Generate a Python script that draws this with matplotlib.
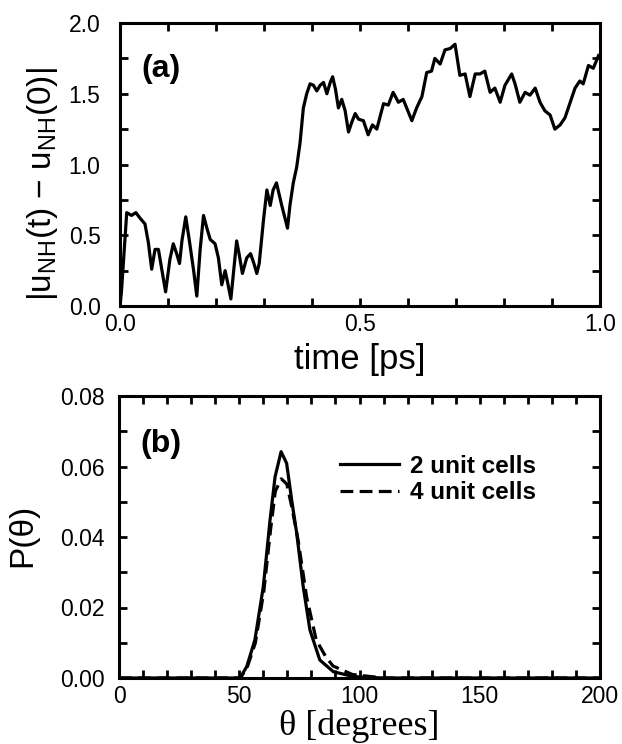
import matplotlib
matplotlib.use("Agg")
import matplotlib.pyplot as plt
from matplotlib.ticker import MultipleLocator, FormatStrFormatter

# (a) displacement trace
time_ps = [0.000, 0.003, 0.014, 0.024, 0.033, 0.042, 0.052, 0.059, 0.066, 0.073,
           0.080, 0.087, 0.095, 0.104, 0.111, 0.118, 0.124, 0.129, 0.137, 0.145,
           0.153, 0.160, 0.167, 0.174, 0.181, 0.188, 0.198, 0.205, 0.212, 0.219,
           0.224, 0.231, 0.243, 0.248, 0.255, 0.264, 0.272, 0.279, 0.285, 0.290,
           0.299, 0.306, 0.313, 0.319, 0.326, 0.337, 0.349, 0.354, 0.361, 0.368,
           0.375, 0.382, 0.389, 0.396, 0.403, 0.410, 0.417, 0.424, 0.431, 0.438,
           0.443, 0.449, 0.455, 0.462, 0.469, 0.476, 0.483, 0.490, 0.497, 0.507,
           0.517, 0.526, 0.535, 0.549, 0.559, 0.569, 0.580, 0.590, 0.608, 0.618,
           0.629, 0.639, 0.649, 0.656, 0.667, 0.677, 0.688, 0.698, 0.708, 0.719,
           0.729, 0.740, 0.750, 0.760, 0.771, 0.781, 0.792, 0.802, 0.816, 0.823,
           0.833, 0.844, 0.854, 0.865, 0.875, 0.885, 0.896, 0.906, 0.917, 0.927,
           0.938, 0.948, 0.958, 0.965, 0.976, 0.986, 0.997]
disp = [0.00, 0.10, 0.66, 0.64, 0.66, 0.62, 0.58, 0.45, 0.26, 0.40,
        0.40, 0.26, 0.10, 0.33, 0.44, 0.37, 0.30, 0.46, 0.63, 0.45,
        0.26, 0.07, 0.40, 0.64, 0.55, 0.47, 0.44, 0.34, 0.15, 0.25,
        0.17, 0.05, 0.46, 0.37, 0.23, 0.34, 0.37, 0.30, 0.23, 0.30,
        0.61, 0.82, 0.71, 0.82, 0.87, 0.71, 0.55, 0.71, 0.87, 0.98,
        1.15, 1.40, 1.50, 1.57, 1.56, 1.52, 1.56, 1.58, 1.50, 1.58,
        1.62, 1.53, 1.40, 1.46, 1.38, 1.23, 1.30, 1.36, 1.32, 1.31,
        1.21, 1.28, 1.25, 1.43, 1.42, 1.51, 1.44, 1.46, 1.31, 1.40,
        1.48, 1.65, 1.66, 1.75, 1.71, 1.81, 1.82, 1.85, 1.63, 1.64,
        1.48, 1.64, 1.64, 1.66, 1.51, 1.54, 1.44, 1.56, 1.64, 1.57,
        1.44, 1.51, 1.49, 1.54, 1.44, 1.38, 1.35, 1.25, 1.28, 1.33,
        1.44, 1.54, 1.59, 1.57, 1.70, 1.68, 1.77]

# (b) angle distributions
theta_2 = [0, 40, 50.3, 53.1, 56.5, 60.0, 62.8, 64.9, 67.4, 69.7, 71.8, 73.9,
           76.6, 79.4, 83.5, 89.1, 97.4, 110, 200]
p_2 = [0.0, 0.0, 0.0, 0.0032, 0.0108, 0.0259, 0.0448, 0.0571, 0.0642, 0.0609,
       0.0505, 0.0410, 0.0259, 0.0136, 0.0051, 0.0018, 0.0004, 0.0, 0.0]
theta_4 = [0, 40, 50.5, 53.3, 56.7, 60.2, 63.0, 65.0, 67.5, 69.8, 72.0, 74.5,
           78.0, 82.0, 86.0, 89.0, 97.0, 110, 200]
p_4 = [0.0, 0.0, 0.0, 0.0030, 0.0100, 0.0245, 0.0420, 0.0530, 0.0565, 0.0550,
       0.0480, 0.0390, 0.0230, 0.0108, 0.0060, 0.0034, 0.0010, 0.0, 0.0]

plt.rcParams["font.family"] = ["Liberation Sans", "DejaVu Sans"]
plt.rcParams["mathtext.default"] = "regular"

fig = plt.figure(figsize=(6.22, 7.44), dpi=100)
W, H = 622, 744
ax1 = fig.add_axes([120 / W, 1 - 306 / H, 480 / W, 283 / H])
ax2 = fig.add_axes([119 / W, 1 - 678 / H, 481 / W, 282 / H])


def style(ax, ypad):
    for s in ax.spines.values():
        s.set_linewidth(2.2)
    ax.tick_params(which="both", direction="in", top=True, right=True,
                   length=6, width=2, labelsize=16.5)
    ax.tick_params(axis="x", pad=5)
    ax.tick_params(axis="y", pad=ypad)


ax1.plot(time_ps, disp, color="black", lw=2.3, solid_joinstyle="round")
ax1.set_xlim(0, 1.0)
ax1.set_ylim(0, 2.0)
ax1.xaxis.set_major_locator(MultipleLocator(0.5))
ax1.xaxis.set_minor_locator(MultipleLocator(0.1))
ax1.yaxis.set_major_locator(MultipleLocator(0.5))
ax1.yaxis.set_minor_locator(MultipleLocator(0.25))
ax1.xaxis.set_major_formatter(FormatStrFormatter("%.1f"))
ax1.yaxis.set_major_formatter(FormatStrFormatter("%.1f"))
style(ax1, 14)
ax1.set_xlabel("time [ps]", fontsize=25, labelpad=5)
ax1.set_ylabel(r"|u$_{NH}$(t) $-$ u$_{NH}$(0)|", fontsize=24)
ax1.yaxis.set_label_coords(-0.125, 0.43)
ax1.text(0.045, 0.81, "(a)", transform=ax1.transAxes, fontsize=23,
         fontweight="bold")

ax2.plot(theta_2, p_2, color="black", lw=2.3, label="2 unit cells")
ax2.plot(theta_4, p_4, color="black", lw=2.3, ls=(0, (4, 2)),
         label="4 unit cells")
ax2.set_xlim(0, 200)
ax2.set_ylim(0, 0.08)
ax2.xaxis.set_major_locator(MultipleLocator(50))
ax2.xaxis.set_minor_locator(MultipleLocator(10))
ax2.yaxis.set_major_locator(MultipleLocator(0.02))
ax2.yaxis.set_minor_locator(MultipleLocator(0.01))
ax2.yaxis.set_major_formatter(FormatStrFormatter("%.2f"))
style(ax2, 10)
ax2.set_xlabel("θ [degrees]", fontsize=26, family="Liberation Serif",
               labelpad=1)
ax2.set_ylabel("P(θ)", fontsize=24)
ax2.yaxis.set_label_coords(-0.168, 0.507)
ax2.text(0.045, 0.80, "(b)", transform=ax2.transAxes, fontsize=23,
         fontweight="bold")
ax2.legend(loc="upper left", bbox_to_anchor=(0.415, 0.87), frameon=False,
           handlelength=2.4, handletextpad=0.45, labelspacing=0.15,
           prop={"weight": "bold", "size": 17.5})

fig.savefig("out.png", dpi=100)
